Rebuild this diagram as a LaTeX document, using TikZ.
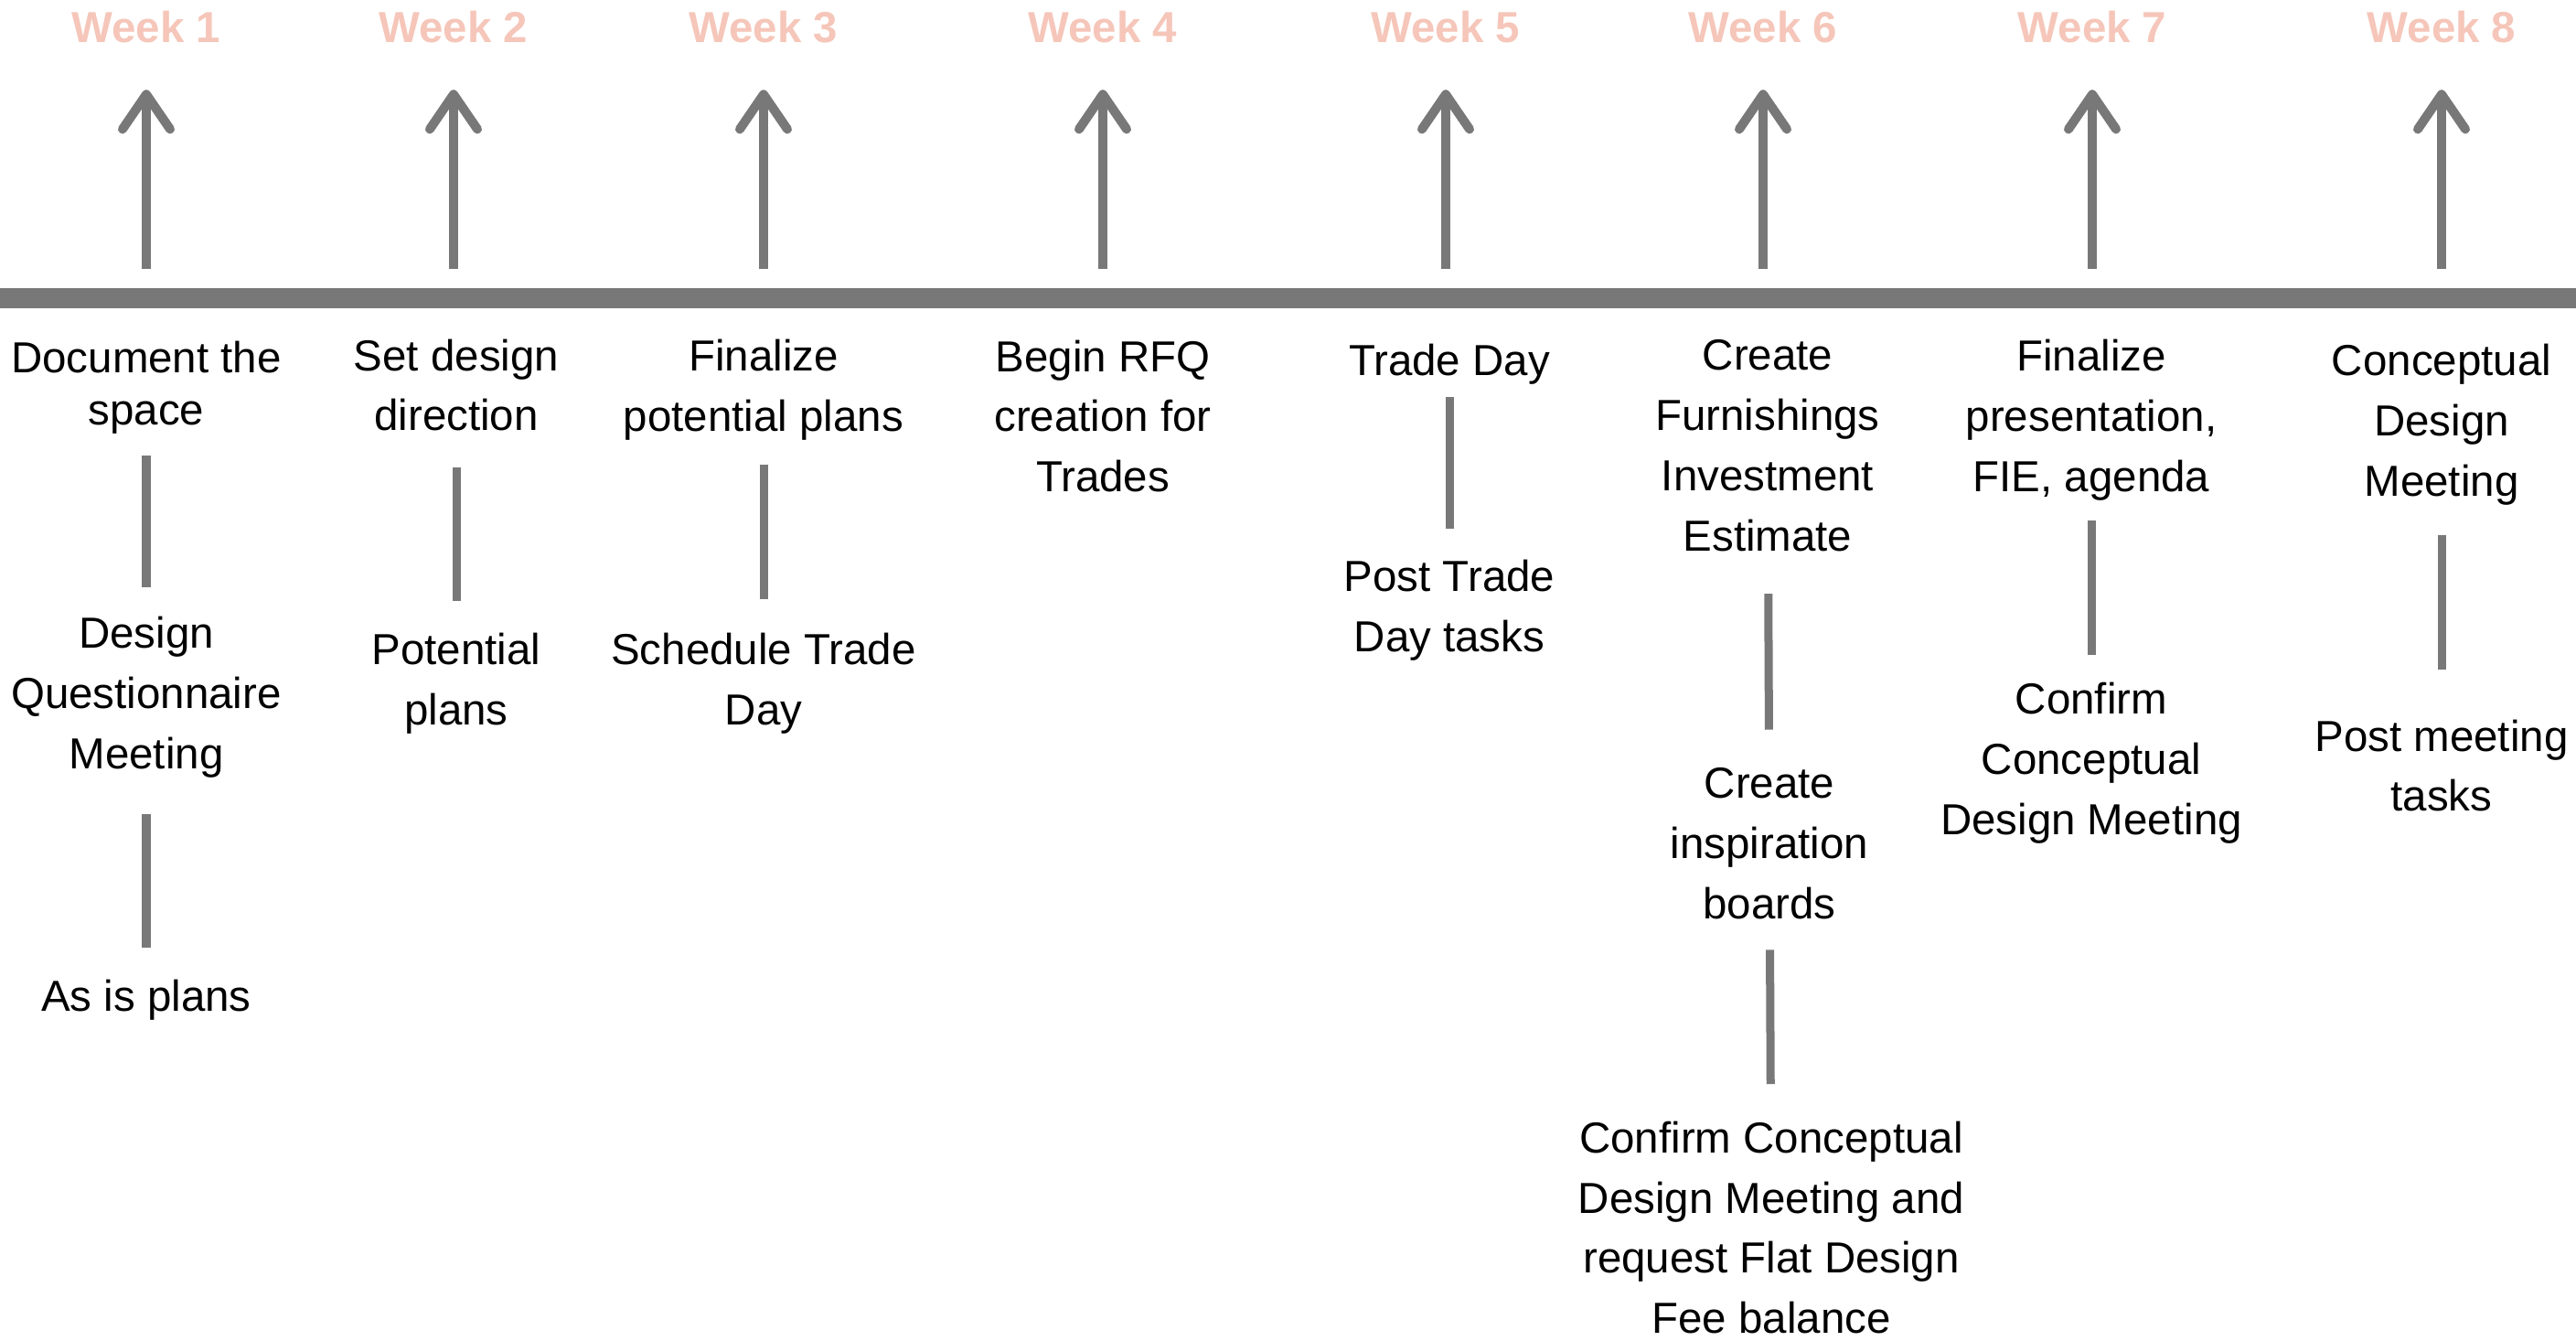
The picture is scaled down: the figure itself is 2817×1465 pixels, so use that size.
\documentclass[tikz,border=0pt]{standalone}
\usepackage{fontspec}
\setmainfont{Liberation Sans}
\usepackage{tikz}
\usetikzlibrary{arrows.meta,positioning}
\definecolor{weekpink}{RGB}{245,198,185}
\definecolor{bargray}{RGB}{120,120,120}
\tikzset{>={Straight Barb[length=3.8mm,width=5.2mm,line cap=round,line join=round]}}

\begin{document}
\begin{tikzpicture}[x=0.01cm, y=-0.01cm,
              week/.style={font=\bfseries\fontsize{13.5}{16}\selectfont, text=weekpink, inner sep=0},
              task/.style={font=\fontsize{13.5}{18.7}\selectfont, align=center, inner sep=0},
              uparrow/.style={line width=1mm, bargray, ->, shorten <=0.32cm, shorten >=0.5cm},
              link/.style={line width=0.9mm, bargray},
              bar/.style={line width=2.2mm, bargray},
             ]
\useasboundingbox (0,0) rectangle (2817,1465);
\coordinate (left) at (0,326);
\coordinate (right) at (2817,326);
\draw[bar] (left) -- (right);

% weeks
\node[week] (wk1) at (160,30) {Week 1};
\node[week] (wk2) at (496,30) {Week 2};
\node[week] (wk3) at (835,30) {Week 3};
\node[week] (wk4) at (1206,30) {Week 4};
\node[week] (wk5) at (1581,30) {Week 5};
\node[week] (wk6) at (1928,30) {Week 6};
\node[week] (wk7) at (2288,30) {Week 7};
\node[week] (wk8) at (2670,30) {Week 8};
\draw[uparrow] (wk1 |- left) -- (wk1);
\draw[uparrow] (wk2 |- left) -- (wk2);
\draw[uparrow] (wk3 |- left) -- (wk3);
\draw[uparrow] (wk4 |- left) -- (wk4);
\draw[uparrow] (wk5 |- left) -- (wk5);
\draw[uparrow] (wk6 |- left) -- (wk6);
\draw[uparrow] (wk7 |- left) -- (wk7);
\draw[uparrow] (wk8 |- left) -- (wk8);

% tasks below the line
\node[task, font=\fontsize{13.5}{16.2}\selectfont] (t1a) at (160,424) {Document the\\space};
\node[task] (t1b) at (160,762) {Design\\Questionnaire\\Meeting};
\node[task] (t1c) at (160,1093) {As is plans};
\node[task] (t2a) at (499,421) {Set design\\direction};
\node[task] (t2b) at (499,747) {Potential\\plans};
\node[task] (t3a) at (835,426) {Finalize\\potential plans};
\node[task] (t3b) at (835,747) {Schedule Trade\\Day};
\node[task] (t4a) at (1206,455) {Begin RFQ\\creation for\\Trades};
\node[task] (t5a) at (1585,398) {Trade Day};
\node[task] (t5b) at (1585,667) {Post Trade\\Day tasks};
\node[task] (t6a) at (1933,487) {Create\\Furnishings\\Investment\\Estimate};
\node[task] (t6b) at (1935,922) {Create\\inspiration\\boards};
\node[task] (t6c) at (1937,1342) {Confirm Conceptual\\Design Meeting and\\request Flat Design\\Fee balance};
\node[task] (t7a) at (2287,459) {Finalize\\presentation,\\FIE, agenda};
\node[task] (t7b) at (2287,834) {Confirm\\Conceptual\\Design Meeting};
\node[task] (t8a) at (2670,464) {Conceptual\\Design\\Meeting};
\node[task] (t8b) at (2670,837) {Post meeting\\tasks};

\draw[link, shorten <=0.23cm, shorten >=0.31cm] (t1a) -- (t1b);
\draw[link, shorten <=0.39cm, shorten >=0.34cm] (t1b) -- (t1c);
\draw[link, shorten <=0.39cm, shorten >=0.34cm] (t2a) -- (t2b);
\draw[link, shorten <=0.26cm, shorten >=0.36cm] (t3a) -- (t3b);
\draw[link, shorten <=0.13cm, shorten >=0.33cm] (t5a) -- (t5b);
\draw[link, shorten <=0.46cm, shorten >=0.41cm] (t6a) -- (t6b);
\draw[link, shorten <=0.33cm, shorten >=0.40cm] (t6b) -- (t6c);
\draw[link, shorten <=0.21cm, shorten >=0.29cm] (t7a) -- (t7b);
\draw[link, shorten <=0.32cm, shorten >=0.54cm] (t8a) -- (t8b);
\end{tikzpicture}
\end{document}
